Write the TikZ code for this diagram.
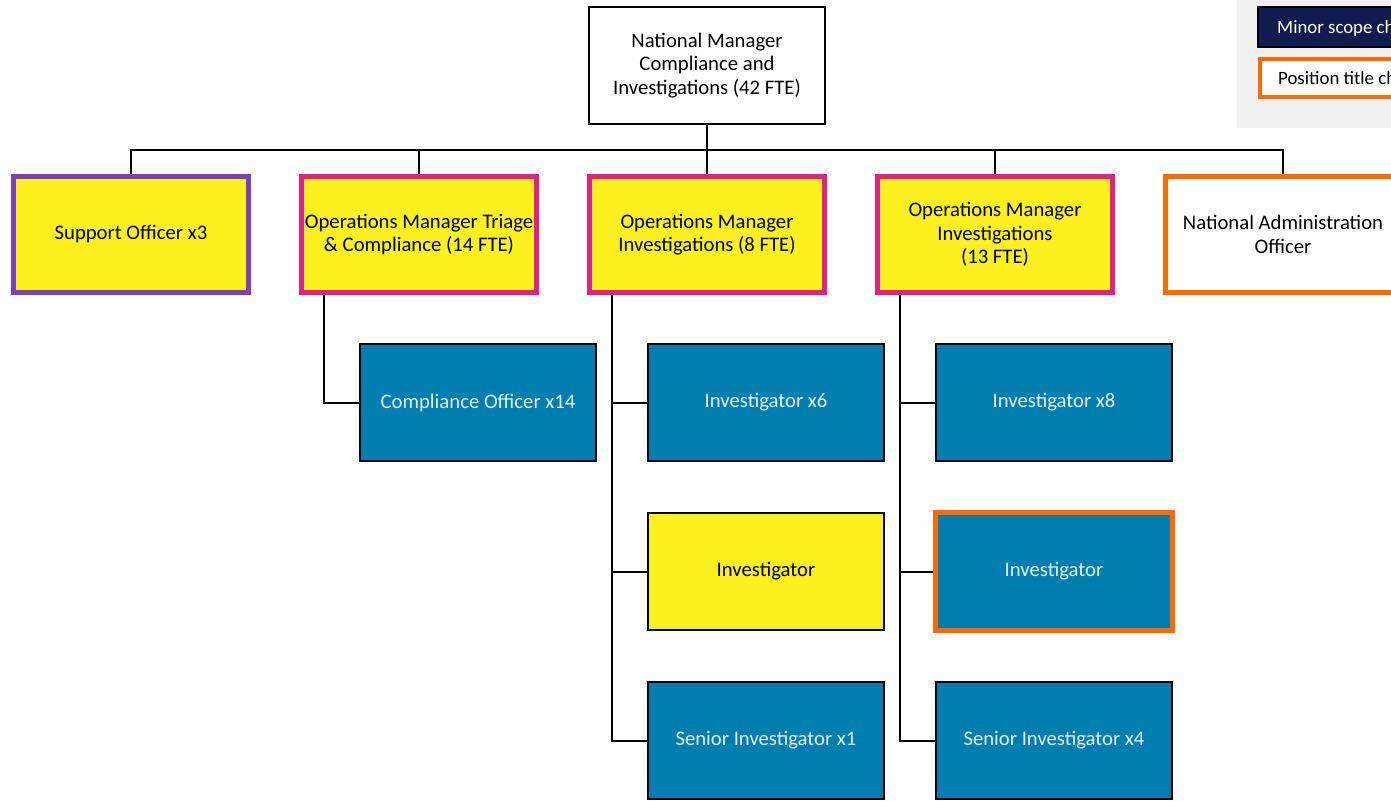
\documentclass[tikz,border=0pt]{standalone}
\usepackage{fontspec}
\setmainfont{Carlito}
\definecolor{boxyellow}{HTML}{FCF11E}
\definecolor{magentab}{HTML}{E0218A}
\definecolor{purpleb}{HTML}{7B3FBE}
\definecolor{bluefill}{HTML}{007EB0}
\definecolor{orangeb}{HTML}{FF6A00}
\definecolor{navyfill}{HTML}{121C4E}
\definecolor{lightgray}{HTML}{F0F0F0}
\definecolor{bluetext}{HTML}{E4F0F6}
\tikzset{
  base/.style={rectangle, align=center, font=\fontsize{20.7}{23.5}\selectfont, inner sep=0pt},
  topbox/.style={base, draw=black, line width=2pt, fill=white, minimum width=236pt, minimum height=117pt},
  lvlone/.style={base, line width=5pt, minimum width=235pt, minimum height=116pt},
  lvltwo/.style={base, draw=black, line width=2pt, fill=bluefill, text=bluetext, minimum width=236pt, minimum height=117pt},
  conn/.style={draw=black, line width=2pt},
  legendbox/.style={rectangle, anchor=west, inner sep=0pt, minimum width=170pt},
  legendtext/.style={anchor=west, inner sep=0pt, font=\fontsize{18.8}{21}\selectfont}
}
\begin{document}
\begin{tikzpicture}[x=1pt,y=-1pt]
\useasboundingbox (0,0) rectangle (1391,800);
\clip (0,0) rectangle (1391,800);
% legend
\fill[lightgray] (1237,0) rectangle (1391,128);
\node[legendbox, draw=black, line width=2pt, fill=navyfill, minimum height=40pt] (leg1) at (1257,27) {};
\node[legendtext, text=white] (leg1t) at ([xshift=20pt,yshift=-2pt]leg1.west) {Minor scope change};
\node[legendbox, draw=orangeb, line width=4pt, fill=white, minimum height=38pt] (leg2) at (1258,78) {};
\node[legendtext, text=black] (leg2t) at ([xshift=20pt,yshift=-2pt]leg2.west) {Position title change};
% top
\node[topbox] (top) at (707,65.5) {National Manager\\Compliance and\\Investigations (42 FTE)};
% level one
\node[lvlone, draw=purpleb, fill=boxyellow] (support) at (131,234.5) {Support Officer x3};
\node[lvlone, draw=magentab, fill=boxyellow] (triage) at (419,234.5) {Operations Manager Triage\\\& Compliance (14 FTE)};
\node[lvlone, draw=magentab, fill=boxyellow] (opsa) at (707,234.5) {Operations Manager\\Investigations (8 FTE)};
\node[lvlone, draw=magentab, fill=boxyellow] (opsb) at (995,234.5) {Operations Manager\\Investigations\\(13 FTE)};
\node[lvlone, draw=orangeb, fill=white] (admin) at (1283,234.5) {National Administration\\Officer};
% level two
\node[lvltwo] (comp) at (478,402.5) {Compliance Officer x14};
\node[lvltwo] (invsix) at (766,402.5) {Investigator x6};
\node[lvltwo, fill=boxyellow, text=black] (invya) at (766,571.5) {Investigator};
\node[lvltwo] (sinvone) at (766,740.5) {Senior Investigator x1};
\node[lvltwo] (inveight) at (1054,402.5) {Investigator x8};
\node[lvltwo, draw=orangeb, line width=5pt, minimum width=237pt, minimum height=118pt] (invob) at (1054,571.5) {Investigator};
\node[lvltwo] (sinvfour) at (1054,740.5) {Senior Investigator x4};
% connectors
\coordinate (bus) at (707,150);
\draw[conn] (top.south) -- (opsa.north);
\draw[conn] (support.north) |- (bus) -| (admin.north);
\draw[conn] (triage.north) -- (triage.north |- bus);
\draw[conn] (opsb.north) -- (opsb.north |- bus);
\coordinate (ta) at ([xshift=25pt]triage.south west);
\coordinate (oa) at ([xshift=25pt]opsa.south west);
\coordinate (ob) at ([xshift=25pt]opsb.south west);
\draw[conn] (ta) |- (comp.west);
\draw[conn] (oa) |- (invsix.west);
\draw[conn] (oa) |- (invya.west);
\draw[conn] (oa) |- (sinvone.west);
\draw[conn] (ob) |- (inveight.west);
\draw[conn] (ob) |- (invob.west);
\draw[conn] (ob) |- (sinvfour.west);
\end{tikzpicture}
\end{document}
